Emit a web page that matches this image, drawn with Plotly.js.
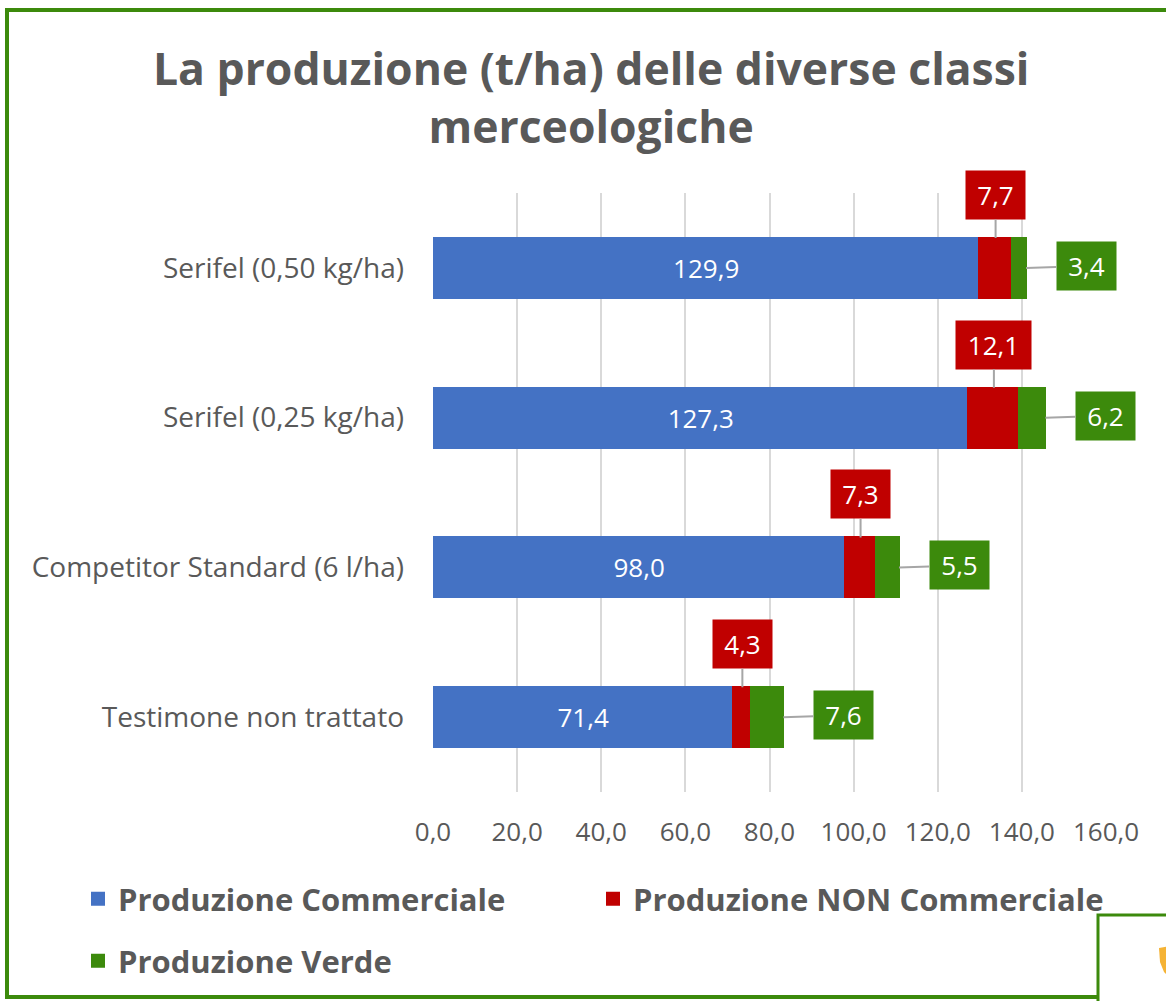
<!DOCTYPE html>
<html>
<head>
<meta charset="utf-8">
<script src="https://cdn.plot.ly/plotly-3.0.1.min.js"></script>
<style>
  html, body { margin: 0; padding: 0; background: #ffffff; }
  #chart { width: 1166px; height: 1001px; }
</style>
</head>
<body>
<div id="chart"></div>
<script>
// ---------- DATA ----------
const categories = [
  'Serifel (0,50 kg/ha)',
  'Serifel (0,25 kg/ha)',
  'Competitor Standard (6 l/ha)',
  'Testimone non trattato'
];
const commerciale = [129.9, 127.3, 98.0, 71.4];
const nonCommerciale = [7.7, 12.1, 7.3, 4.3];
const verde = [3.4, 6.2, 5.5, 7.6];
const seriesNames = ['Produzione Commerciale', 'Produzione NON Commerciale', 'Produzione Verde'];
const xTickValues = [0, 20, 40, 60, 80, 100, 120, 140, 160];
const titleLines = ['La produzione (t/ha) delle diverse classi', 'merceologiche'];

// ---------- STYLE ----------
const W = 1166, H = 1001;
const M = { l: 433, r: 60, t: 193, b: 209, autoexpand: false };
const PW = W - M.l - M.r, PH = H - M.t - M.b;
const FONT = '"Open Sans", "Noto Sans", sans-serif';
const GREY = '#595959';
const BLUE = '#4472C4', RED = '#C00000', GREEN = '#3C8A0C';

const fmt = v => v.toFixed(1).replace('.', ',');
const px2x = px => (px - M.l) / PW;
const py2y = py => (H - M.b - py) / PH;
const boxW = s => 16 * s.length - 5;

const traces = [
  {
    type: 'bar', orientation: 'h', name: seriesNames[0],
    y: categories, x: commerciale,
    marker: { color: BLUE, line: { color: BLUE, width: 2 } },
    text: commerciale.map(fmt), textposition: 'inside', insidetextanchor: 'middle',
    textfont: { family: FONT, size: 26, color: '#ffffff' },
    hoverinfo: 'x+name', legend: 'legend'
  },
  {
    type: 'bar', orientation: 'h', name: seriesNames[1],
    y: categories, x: nonCommerciale,
    marker: { color: RED, line: { color: RED, width: 2 } },
    textposition: 'none', hoverinfo: 'x+name', legend: 'legend2'
  },
  {
    type: 'bar', orientation: 'h', name: seriesNames[2],
    y: categories, x: verde,
    marker: { color: GREEN, line: { color: GREEN, width: 2 } },
    textposition: 'none', hoverinfo: 'x+name', legend: 'legend3'
  }
];

const annotations = [];
categories.forEach((c, i) => {
  const tRed = fmt(nonCommerciale[i]);
  const tGreen = fmt(verde[i]);
  annotations.push({
    x: commerciale[i] + nonCommerciale[i] / 2, y: c, xref: 'x', yref: 'y',
    text: tRed, showarrow: true, arrowhead: 0, arrowwidth: 2,
    arrowcolor: '#a6a6a6', ax: 0, ay: -73, standoff: 30,
    bgcolor: RED, borderpad: 8, height: 32, width: boxW(tRed),
    font: { family: FONT, size: 26, color: '#ffffff' }
  });
  annotations.push({
    x: commerciale[i] + nonCommerciale[i] + verde[i], y: c, xref: 'x', yref: 'y',
    text: tGreen, showarrow: true, arrowhead: 0, arrowwidth: 2,
    arrowcolor: '#a6a6a6', ax: 60, ay: -2, standoff: 0,
    bgcolor: GREEN, borderpad: 8, height: 32, width: boxW(tGreen),
    font: { family: FONT, size: 26, color: '#ffffff' }
  });
});

const shapes = [
  // outer green frame
  { type: 'rect', xref: 'paper', yref: 'paper', layer: 'below',
    x0: px2x(7), x1: px2x(1172), y0: py2y(997), y1: py2y(10),
    line: { color: GREEN, width: 4 }, fillcolor: 'rgba(0,0,0,0)' },
  // small overlapping box bottom-right
  { type: 'rect', xref: 'paper', yref: 'paper', layer: 'above',
    x0: px2x(1098), x1: px2x(1175), y0: py2y(1003), y1: py2y(915),
    line: { color: GREEN, width: 3 }, fillcolor: '#ffffff' },
  // partial orange icon
  { type: 'path', xref: 'paper', yref: 'paper', layer: 'above',
    path: 'M ' + px2x(1159) + ' ' + py2y(948) + ' L ' + px2x(1170) + ' ' + py2y(946) +
          ' L ' + px2x(1170) + ' ' + py2y(978) + ' L ' + px2x(1164) + ' ' + py2y(972) +
          ' L ' + px2x(1160) + ' ' + py2y(962) + ' Z',
    line: { width: 0 }, fillcolor: '#F5B335' }
];

const legendFont = { family: FONT, size: 31, color: GREY, weight: 700 };
const mkLegend = (xpx, ypx) => ({
  orientation: 'h', xref: 'container', yref: 'container',
  x: xpx / W, y: 1 - ypx / H, xanchor: 'left', yanchor: 'middle',
  bgcolor: 'rgba(0,0,0,0)', borderwidth: 0,
  font: legendFont, itemclick: false, itemdoubleclick: false
});

const layout = {
  width: W, height: H,
  margin: M,
  paper_bgcolor: '#ffffff', plot_bgcolor: '#ffffff',
  separators: ',.',
  barmode: 'stack', bargap: 0.6,
  font: { family: FONT, color: GREY },
  title: {
    text: titleLines.join('<br>'),
    font: { family: FONT, size: 44.5, color: GREY, weight: 700 },
    xref: 'container', yref: 'container', x: 0.507, y: 1 - 85 / H,
    xanchor: 'center', yanchor: 'middle'
  },
  xaxis: {
    range: [0, 160], tickvals: xTickValues, tickformat: '.1f',
    showgrid: true, gridcolor: '#d9d9d9', gridwidth: 2,
    zeroline: false, showline: false, ticks: '',
    ticklabelstandoff: 22,
    tickfont: { family: FONT, size: 26, color: GREY },
    fixedrange: true
  },
  yaxis: {
    type: 'category', range: [3.5, -0.5], autorange: false,
    showgrid: false, zeroline: false, showline: false, ticks: '',
    ticklabelstandoff: 28,
    tickfont: { family: FONT, size: 28, color: GREY },
    fixedrange: true
  },
  legend: mkLegend(78, 899),
  legend2: mkLegend(593, 899),
  legend3: mkLegend(78, 961),
  annotations: annotations,
  shapes: shapes,
  showlegend: true
};

Plotly.newPlot('chart', traces, layout, { displayModeBar: false, staticPlot: true });
</script>
</body>
</html>
